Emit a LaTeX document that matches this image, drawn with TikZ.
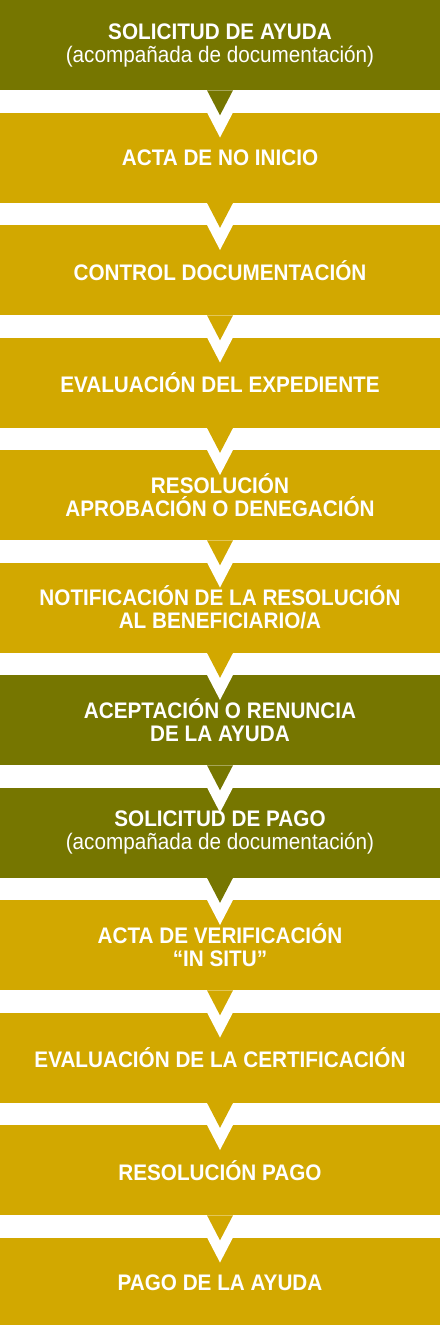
\documentclass[tikz,border=0pt]{standalone}
\usepackage{fontspec}
\usepackage{xcolor}
\usepackage{tikz}
\usetikzlibrary{positioning}
\newfontfamily\cajafont{Liberation Sans}[FakeStretch=0.92]
\definecolor{oliva}{RGB}{118,118,0}
\definecolor{oro}{RGB}{210,168,0}
\tikzstyle{caja} = [rectangle, minimum width=440pt, minimum height=90.3pt, inner sep=0pt, outer sep=0pt, align=center, text=white, font=\cajafont\fontsize{22.5}{23}\selectfont\bfseries]
\tikzstyle{paso} = [caja, fill=oro]
\tikzstyle{hito} = [caja, fill=oliva]
% triangle of the upper box, cut out in white from the lower one
\newcommand{\flecha}[3]{%
  \fill[white] ([xshift=-13pt]#2.north) -- ([xshift=13pt]#2.north) -- ([yshift=-25pt]#2.north) -- cycle;
  \fill[#3] ([xshift=-13pt]#1.south) -- ([xshift=13pt]#1.south) -- ([yshift=-25pt]#1.south) -- cycle;}

\begin{document}
\begin{tikzpicture}[node distance=22.2pt]
                \useasboundingbox (0,0) rectangle (441pt,-1325pt);
                \node[hito, anchor=north west] (sol) at (0,0) {SOLICITUD DE AYUDA\\{\mdseries (acompañada de documentación)}};
                \node[paso, below=of sol] (acta) {ACTA DE NO INICIO};
                \node[paso, below=of acta] (ctrl) {CONTROL DOCUMENTACIÓN};
                \node[paso, below=of ctrl] (eval) {EVALUACIÓN DEL EXPEDIENTE};
                \node[paso, below=of eval] (res) {RESOLUCIÓN\\APROBACIÓN O DENEGACIÓN};
                \node[paso, below=of res] (notif) {NOTIFICACIÓN DE LA RESOLUCIÓN\\AL BENEFICIARIO/A};
                \node[hito, below=of notif] (acep) {ACEPTACIÓN O RENUNCIA\\DE LA AYUDA};
                \node[hito, below=of acep] (solpago) {SOLICITUD DE PAGO\\{\mdseries (acompañada de documentación)}};
                \node[paso, below=of solpago] (verif) {ACTA DE VERIFICACIÓN\\“IN SITU”};
                \node[paso, below=of verif] (cert) {EVALUACIÓN DE LA CERTIFICACIÓN};
                \node[paso, below=of cert] (respago) {RESOLUCIÓN PAGO};
                \node[paso, below=of respago] (pago) {PAGO DE LA AYUDA};
                % arrows between the steps
                \flecha{sol}{acta}{oliva}
                \flecha{acta}{ctrl}{oro}
                \flecha{ctrl}{eval}{oro}
                \flecha{eval}{res}{oro}
                \flecha{res}{notif}{oro}
                \flecha{notif}{acep}{oro}
                \flecha{acep}{solpago}{oliva}
                \flecha{solpago}{verif}{oliva}
                \flecha{verif}{cert}{oro}
                \flecha{cert}{respago}{oro}
                \flecha{respago}{pago}{oro}
\end{tikzpicture}
\end{document}
